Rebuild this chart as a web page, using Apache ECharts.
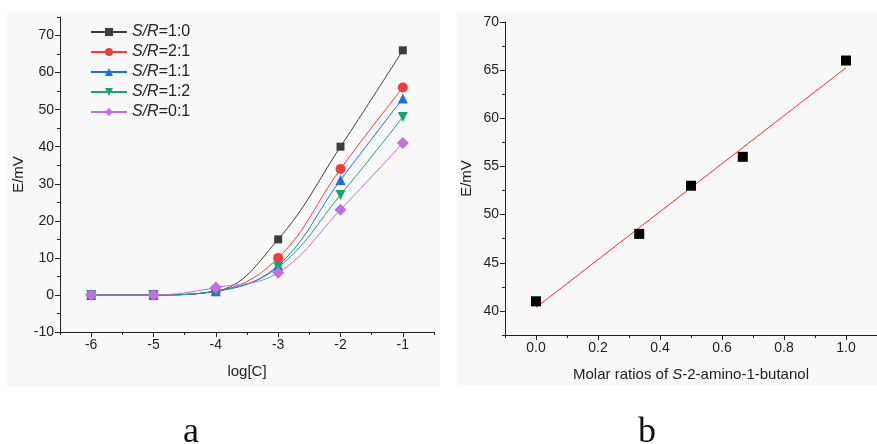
<!DOCTYPE html>
<html>
<head>
<meta charset="utf-8">
<script src="https://cdn.jsdelivr.net/npm/echarts@6/dist/echarts.min.js"></script>
<style>
  html, body { margin: 0; padding: 0; background: #fff; }
  #chart { width: 877px; height: 444px; }
</style>
</head>
<body>
<div id="chart"></div>
<script>
  // panel a: response vs log concentration
  var logC = [-6, -5, -4, -3, -2, -1];
  var seriesNames = ['S/R=1:0', 'S/R=2:1', 'S/R=1:1', 'S/R=1:2', 'S/R=0:1'];
  var e10 = [0, 0, 1, 15, 40, 66];
  var e21 = [0, 0, 1, 10, 34, 56];
  var e11 = [0, 0, 1, 8, 31, 53];
  var e12 = [0, 0, 1, 7.5, 27, 48];
  var e01 = [0, 0, 2, 6, 23, 41];
  var ticksAx = [-6, -5, -4, -3, -2, -1];
  var ticksAy = [-10, 0, 10, 20, 30, 40, 50, 60, 70];

  // panel b: response vs molar ratio, with linear fit
  var ratio = [0, 0.333, 0.5, 0.667, 1.0];
  var eRatio = [41, 48, 53, 56, 66];
  var fitX = [0, 1];
  var fitY = [40.35, 65.25];
  var ticksBx = [0, 0.2, 0.4, 0.6, 0.8, 1.0];
  var ticksBy = [40, 45, 50, 55, 60, 65, 70];

  var colors = ['#3d3d3d', '#f53c3c', '#1b6fe4', '#17a56f', '#c26ee4'];
  var symbols = ['rect', 'circle', 'triangle', 'triangle', 'diamond'];
  var rotates = [0, 0, 0, 180, 0];
  var sizes = [8, 10, 10, 10, 12];
  var allE = [e10, e21, e11, e12, e01];

  var font = 'Liberation Sans, Arial, sans-serif';
  var labelStyle = { color: '#222', fontSize: 14, fontFamily: font };
  var nameStyle = { color: '#222', fontSize: 15, fontFamily: font };
  var lineStyle = { color: '#222', width: 1 };

  function pairs(xs, ys) {
    return xs.map(function (x, i) { return [x, ys[i]]; });
  }

  function majorAxis(opt) {
    return Object.assign({
      type: 'value',
      axisLine: { show: true, onZero: false, lineStyle: lineStyle },
      axisTick: { show: true, length: 5, lineStyle: lineStyle, customValues: opt.ticks },
      axisLabel: Object.assign({ customValues: opt.ticks, margin: 6 }, labelStyle),
      splitLine: { show: false },
      nameLocation: 'middle',
      nameTextStyle: nameStyle
    }, opt.extra);
  }

  // second axis on the same grid, only to draw the short minor ticks
  function minorAxis(opt) {
    return Object.assign({
      type: 'value',
      axisLine: { show: false, onZero: false },
      axisTick: { show: true, length: 3, lineStyle: lineStyle },
      axisLabel: { show: false },
      splitLine: { show: false }
    }, opt);
  }

  var series = seriesNames.map(function (name, k) {
    return {
      name: name,
      type: 'line',
      xAxisIndex: 0,
      yAxisIndex: 0,
      data: pairs(logC, allE[k]),
      smooth: 0.4,
      symbol: symbols[k],
      symbolRotate: rotates[k],
      symbolSize: sizes[k],
      itemStyle: { color: colors[k] },
      lineStyle: { color: colors[k], width: 1 }
    };
  });

  series.push({
    name: 'fit',
    type: 'line',
    xAxisIndex: 2,
    yAxisIndex: 2,
    data: pairs(fitX, fitY),
    showSymbol: false,
    lineStyle: { color: '#ff2a2a', width: 1 },
    z: 1
  });
  series.push({
    name: 'points',
    type: 'scatter',
    xAxisIndex: 2,
    yAxisIndex: 2,
    data: pairs(ratio, eRatio),
    symbol: 'rect',
    symbolSize: 10,
    itemStyle: { color: '#000', opacity: 1 },
    z: 3
  });

  var chart = echarts.init(document.getElementById('chart'));
  chart.setOption({
    backgroundColor: '#fff',
    animation: false,
    graphic: [
      { type: 'rect', z: -10, shape: { x: 7, y: 12, width: 433, height: 375 }, style: { fill: '#f8f8f8' } },
      { type: 'rect', z: -10, shape: { x: 457, y: 12, width: 420, height: 373 }, style: { fill: '#f8f8f8' } },
      { type: 'text', left: 183, top: 415, style: { text: 'a', fontSize: 36, fontFamily: 'Liberation Serif, serif', fill: '#111' } },
      { type: 'text', left: 638, top: 415, style: { text: 'b', fontSize: 36, fontFamily: 'Liberation Serif, serif', fill: '#111' } }
    ],
    legend: {
      data: seriesNames,
      orient: 'vertical',
      left: 90,
      top: 24,
      padding: 0,
      itemWidth: 36,
      itemHeight: 10,
      itemGap: 4,
      formatter: function (name) { return '{i|S/R}{n|' + name.slice(3) + '}'; },
      textStyle: {
        fontSize: 16, fontFamily: font, color: '#222',
        rich: {
          i: { fontStyle: 'italic', fontSize: 16, fontFamily: font, color: '#222' },
          n: { fontSize: 16, fontFamily: font, color: '#222' }
        }
      }
    },
    grid: [
      { left: 60, top: 17, right: 443, bottom: 112, containLabel: false },
      { left: 505, top: 22, right: -7, bottom: 109, containLabel: false }
    ],
    xAxis: [
      majorAxis({ ticks: ticksAx, extra: { gridIndex: 0, position: 'bottom', min: -6.5, max: -0.5, name: 'log[C]', nameGap: 32 } }),
      minorAxis({ gridIndex: 0, position: 'bottom', min: -6.5, max: -0.5, interval: 0.5 }),
      majorAxis({ ticks: ticksBx, extra: {
        gridIndex: 1, position: 'bottom', min: -0.1, max: 1.1, nameGap: 32,
        name: 'Molar ratios of {i|S}-2-amino-1-butanol',
        nameTextStyle: Object.assign({ rich: { i: Object.assign({ fontStyle: 'italic' }, nameStyle) } }, nameStyle),
        axisLabel: Object.assign({ customValues: ticksBx, margin: 6, formatter: function (v) { return v.toFixed(1); } }, labelStyle)
      } }),
      minorAxis({ gridIndex: 1, position: 'bottom', min: -0.1, max: 1.1, interval: 0.1 })
    ],
    yAxis: [
      majorAxis({ ticks: ticksAy, extra: { gridIndex: 0, position: 'left', min: -10, max: 75, name: 'E/mV', nameGap: 34 } }),
      minorAxis({ gridIndex: 0, position: 'left', min: -10, max: 75, interval: 5 }),
      majorAxis({ ticks: ticksBy, extra: { gridIndex: 1, position: 'left', min: 37.5, max: 70, name: 'E/mV', nameGap: 31 } }),
      minorAxis({ gridIndex: 1, position: 'left', min: 37.5, max: 70, interval: 2.5 })
    ],
    series: series
  });
</script>
</body>
</html>
